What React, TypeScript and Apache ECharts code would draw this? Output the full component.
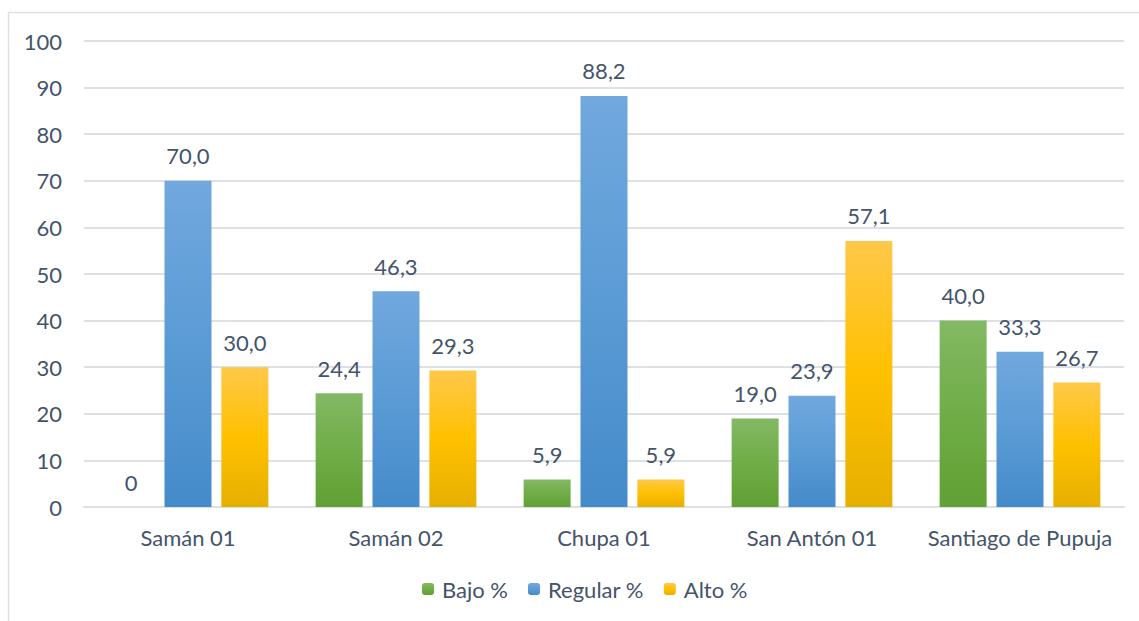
import React, { useEffect, useRef } from "react";
import * as echarts from "echarts";

const categories = ["Samán 01", "Samán 02", "Chupa 01", "San Antón 01", "Santiago de Pupuja"];
const bajo = [0, 24.4, 5.9, 19.0, 40.0];
const regular = [70.0, 46.3, 88.2, 23.9, 33.3];
const alto = [30.0, 29.3, 5.9, 57.1, 26.7];
const seriesNames = ["Bajo %", "Regular %", "Alto %"];

const FONT = "Lato, 'Open Sans', sans-serif";
const TEXT = "#44546a";
const SIZE = 22;

function grad(top: string, mid: string, bottom: string) {
  return new echarts.graphic.LinearGradient(0, 0, 0, 1, [
    { offset: 0, color: top },
    { offset: 0.5, color: mid },
    { offset: 1, color: bottom },
  ]);
}

const fmt = (p: any) => {
  const v = Number(p.value);
  return v === 0 ? "0" : v.toFixed(1).replace(".", ",");
};

export default function App() {
  const ref = useRef<HTMLDivElement>(null);
  useEffect(() => {
    if (!ref.current) return;
    const chart = echarts.init(ref.current, undefined, { renderer: "svg" });
    const colors = [
      grad("#83b964", "#70ad47", "#61a034"),
      grad("#71a8de", "#5b9bd5", "#448bca"),
      grad("#ffc84a", "#ffc000", "#e6b000"),
    ];
    const data = [bajo, regular, alto];
    chart.setOption({
      animation: false,
      graphic: [
        {
          type: "polyline",
          shape: { points: [[8.5, 640], [8.5, 12.5], [1145, 12.5]] },
          style: { stroke: "#dde1e6", lineWidth: 1.5, fill: "none" },
          silent: true,
        },
      ],
      grid: { left: 84, right: 15, top: 41, bottom: 114, containLabel: false },
      legend: {
        bottom: 16,
        left: 417,
        itemWidth: 12,
        itemHeight: 12,
        itemGap: 20,
        textStyle: { fontFamily: FONT, fontSize: SIZE, color: TEXT, padding: [0, 0, 0, 3] },
        data: seriesNames.map((n, i) => ({ name: n, itemStyle: { color: colors[i] } })),
      },
      xAxis: {
        type: "category",
        data: categories,
        axisLine: { show: true, lineStyle: { color: "#dde1e6", width: 2 } },
        axisTick: { show: false },
        axisLabel: { fontFamily: FONT, fontSize: SIZE, color: TEXT, margin: 19, interval: 0 },
      },
      yAxis: {
        type: "value",
        min: 0,
        max: 100,
        interval: 10,
        axisLine: { show: false },
        axisTick: { show: false },
        axisLabel: { fontFamily: FONT, fontSize: SIZE, color: TEXT, margin: 22 },
        splitLine: { lineStyle: { color: "#dde1e6", width: 2 } },
      },
      series: seriesNames.map((name, i) => ({
        name,
        type: "bar",
        data: data[i],
        barWidth: 47,
        barGap: "21%",
        itemStyle: { color: colors[i] },
        label: {
          show: true,
          position: "top",
          distance: 14,
          formatter: fmt,
          fontFamily: FONT,
          fontSize: SIZE,
          color: TEXT,
        },
      })),
    });
    return () => chart.dispose();
  }, []);
  return (
    <div
      ref={ref}
      style={{ position: "fixed", left: 0, top: 0, width: 1139, height: 621, background: "#fff" }}
    />
  );
}
